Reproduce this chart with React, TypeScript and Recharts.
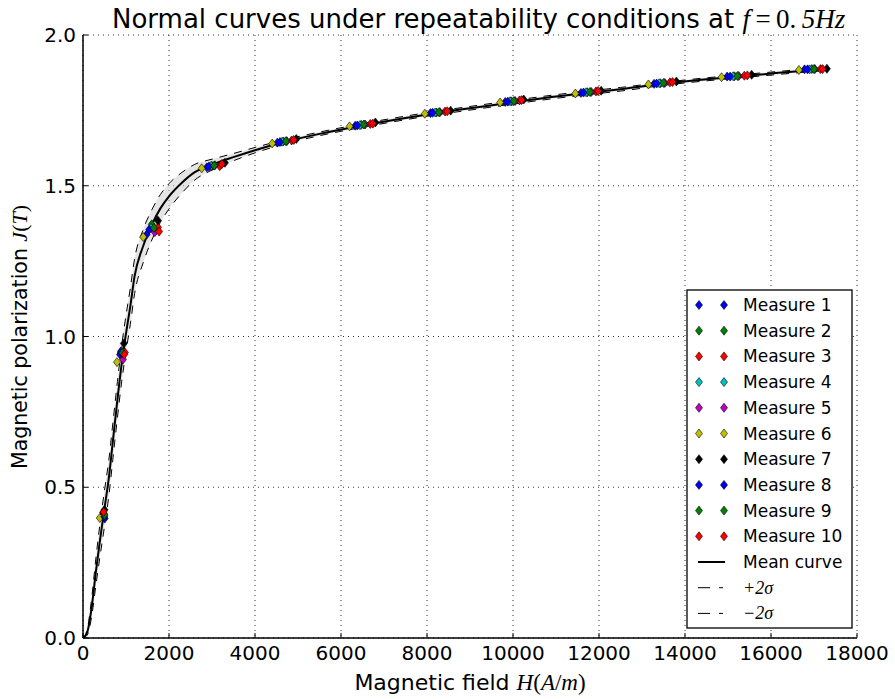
import React from "react";
import { ComposedChart, Line, Area, Scatter, XAxis, YAxis, CartesianGrid } from "recharts";

// magnetic field grid of the curves (A/m)
const hGrid = [0, 100, 200, 300, 400, 500, 600, 700, 800, 900, 1000, 1100, 1200, 1400, 1600, 1800, 2000, 2300, 2600, 3000, 3500, 4000, 4700, 5500, 6500, 7500, 8300, 9000, 10000, 11000, 11800, 12500, 13500, 14500, 15200, 16000, 17000, 17300];
const meanJ = [0, 0.02, 0.1, 0.22, 0.33, 0.43, 0.53, 0.66, 0.79, 0.91, 1.01, 1.1, 1.2, 1.3, 1.37, 1.425, 1.465, 1.51, 1.545, 1.57, 1.595, 1.618, 1.646, 1.672, 1.7, 1.725, 1.743, 1.757, 1.777, 1.796, 1.809, 1.82, 1.838, 1.853, 1.862, 1.872, 1.884, 1.887];
const upperJ = [0, 0.03, 0.13, 0.265, 0.385, 0.49, 0.59, 0.72, 0.85, 0.97, 1.07, 1.16, 1.258, 1.355, 1.42, 1.471, 1.507, 1.544, 1.571, 1.588, 1.607, 1.627, 1.653, 1.678, 1.706, 1.731, 1.749, 1.763, 1.783, 1.802, 1.815, 1.826, 1.843, 1.858, 1.867, 1.877, 1.889, 1.892];
const lowerJ = [0, 0.01, 0.07, 0.175, 0.275, 0.37, 0.47, 0.6, 0.73, 0.85, 0.95, 1.04, 1.142, 1.245, 1.32, 1.379, 1.423, 1.476, 1.519, 1.552, 1.583, 1.609, 1.639, 1.666, 1.694, 1.719, 1.737, 1.751, 1.771, 1.79, 1.803, 1.814, 1.833, 1.848, 1.857, 1.867, 1.879, 1.882];

// measured points, one pair of arrays per measure
const m1H = [505, 860, 1480, 2880, 4520, 6330, 8080, 9820, 11580, 13280, 14980, 16780];
const m1J = [0.396, 0.94, 1.338, 1.561, 1.643, 1.699, 1.741, 1.778, 1.808, 1.838, 1.862, 1.886];
const m2H = [475, 890, 1600, 3000, 4660, 6470, 8220, 9960, 11730, 13430, 15150, 16950];
const m2J = [0.41, 0.952, 1.372, 1.566, 1.647, 1.702, 1.743, 1.78, 1.81, 1.84, 1.863, 1.887];
const m3H = [465, 975, 1745, 3180, 4850, 6680, 8420, 10150, 11930, 13650, 15380, 17150];
const m3J = [0.416, 0.947, 1.362, 1.565, 1.65, 1.705, 1.746, 1.783, 1.813, 1.843, 1.865, 1.887];
const m4H = [480, 900, 1580, 2980, 4630, 6440, 8190, 9930, 11700, 13400, 15120, 16900];
const m4J = [0.405, 0.95, 1.36, 1.566, 1.646, 1.701, 1.743, 1.78, 1.81, 1.84, 1.863, 1.886];
const m5H = [485, 930, 1670, 3070, 4740, 6560, 8300, 10050, 11820, 13530, 15250, 17020];
const m5J = [0.412, 0.924, 1.346, 1.568, 1.648, 1.703, 1.744, 1.781, 1.811, 1.841, 1.864, 1.887];
const m6H = [390, 790, 1400, 2760, 4400, 6200, 7950, 9700, 11450, 13150, 14850, 16650];
const m6J = [0.398, 0.915, 1.33, 1.558, 1.64, 1.697, 1.739, 1.776, 1.806, 1.836, 1.86, 1.884];
const m7H = [500, 950, 1740, 3300, 4960, 6800, 8550, 10250, 12050, 13800, 15550, 17300];
const m7J = [0.425, 0.977, 1.385, 1.576, 1.655, 1.71, 1.749, 1.786, 1.815, 1.846, 1.868, 1.888];
const m8H = [495, 880, 1540, 2930, 4580, 6380, 8130, 9880, 11640, 13340, 15050, 16850];
const m8J = [0.402, 0.948, 1.355, 1.564, 1.645, 1.7, 1.742, 1.779, 1.809, 1.839, 1.862, 1.886];
const m9H = [500, 915, 1650, 3050, 4720, 6530, 8280, 10020, 11790, 13500, 15220, 17000];
const m9J = [0.408, 0.945, 1.36, 1.567, 1.648, 1.703, 1.744, 1.781, 1.811, 1.841, 1.864, 1.887];
const m10H = [480, 960, 1770, 3230, 4900, 6740, 8470, 10200, 11980, 13710, 15450, 17200];
const m10J = [0.418, 0.94, 1.348, 1.572, 1.652, 1.706, 1.747, 1.784, 1.814, 1.844, 1.866, 1.887];

const measureNames = ["Measure 1", "Measure 2", "Measure 3", "Measure 4", "Measure 5", "Measure 6", "Measure 7", "Measure 8", "Measure 9", "Measure 10"];
const measureColors = ["#0000ff", "#008000", "#ff0000", "#00bfbf", "#bf00bf", "#bfbf00", "#000000", "#0000ff", "#008000", "#ff0000"];
const measureH = [m1H, m2H, m3H, m4H, m5H, m6H, m7H, m8H, m9H, m10H];
const measureJ = [m1J, m2J, m3J, m4J, m5J, m6J, m7J, m8J, m9J, m10J];

const xTicks = [0, 2000, 4000, 6000, 8000, 10000, 12000, 14000, 16000, 18000];
const yTicks = [0, 0.5, 1.0, 1.5, 2.0];

const FONT = "'DejaVu Sans', sans-serif";
const MATH = "'Liberation Serif', 'DejaVu Serif', serif";

const curveData = hGrid.map((h, i) => ({ h, mean: meanJ[i], upper: upperJ[i], lower: lowerJ[i], band: [lowerJ[i], upperJ[i]] }));
const measures = measureNames.map((name, k) => ({
  name,
  color: measureColors[k],
  data: measureH[k].map((h, i) => ({ h, j: measureJ[k][i] })),
}));

const diamond = (cx: number, cy: number, fill: string) => (
  <polygon
    points={`${cx},${cy - 4.5} ${cx + 3.5},${cy} ${cx},${cy + 4.5} ${cx - 3.5},${cy}`}
    fill={fill}
    stroke="#000"
    strokeWidth={0.6}
  />
);

// ticks point inward like the matplotlib classic style
const BottomTick = (props: any) => {
  const { x, y, payload } = props;
  const ay = y - 4;
  return (
    <g>
      <line x1={x} x2={x} y1={ay} y2={ay - 5} stroke="#000" />
      <text x={x} y={ay + 22} textAnchor="middle" fontSize={20} fontFamily={FONT} fill="#000">
        {payload.value}
      </text>
    </g>
  );
};
const LeftTick = (props: any) => {
  const { x, y, payload } = props;
  const ax = x + 7;
  return (
    <g>
      <line x1={ax} x2={ax + 5} y1={y} y2={y} stroke="#000" />
      <text x={x} y={y + 7} textAnchor="end" fontSize={20} fontFamily={FONT} fill="#000">
        {Number(payload.value).toFixed(1)}
      </text>
    </g>
  );
};
const TopTick = (props: any) => {
  const { x, y } = props;
  return <line x1={x} x2={x} y1={y} y2={y + 5} stroke="#000" />;
};
const RightTick = (props: any) => {
  const { x, y } = props;
  return <line x1={x} x2={x - 5} y1={y} y2={y} stroke="#000" />;
};

export default function App() {
  const legendTop = 290;
  const rowH = 25.7;
  return (
    <div style={{ position: "absolute", left: 0, top: 0, width: 895, height: 699, background: "#fff" }}>
      <ComposedChart width={895} height={699} data={curveData} margin={{ top: 35, right: 38, bottom: 21, left: 8 }}>
        <CartesianGrid stroke="#000" strokeWidth={0.8} strokeDasharray="1 4" horizontalValues={yTicks} verticalValues={xTicks} />
        <XAxis
          dataKey="h"
          type="number"
          domain={[0, 18000]}
          ticks={xTicks}
          allowDataOverflow
          height={40}
          tickSize={0}
          tickMargin={4}
          tick={<BottomTick />}
          axisLine={{ stroke: "#000", strokeWidth: 1.5 }}
          interval={0}
        />
        <XAxis
          xAxisId="top"
          orientation="top"
          dataKey="h"
          type="number"
          domain={[0, 18000]}
          ticks={xTicks}
          allowDataOverflow
          height={0}
          tickSize={0}
          tickMargin={0}
          tick={<TopTick />}
          axisLine={{ stroke: "#000", strokeWidth: 1.5 }}
          interval={0}
        />
        <YAxis
          type="number"
          domain={[0, 2]}
          ticks={yTicks}
          allowDataOverflow
          width={75}
          tickSize={0}
          tickMargin={7}
          tick={<LeftTick />}
          axisLine={{ stroke: "#000", strokeWidth: 1.5 }}
          interval={0}
        />
        <YAxis
          yAxisId="right"
          orientation="right"
          type="number"
          domain={[0, 2]}
          ticks={yTicks}
          allowDataOverflow
          width={0}
          tickSize={0}
          tickMargin={0}
          tick={<RightTick />}
          axisLine={{ stroke: "#000", strokeWidth: 1.5 }}
          interval={0}
        />
        <Area type="monotone" dataKey="band" stroke="none" fill="#cfcfcf" fillOpacity={0.55} isAnimationActive={false} />
        <Line type="monotone" dataKey="upper" stroke="#000" strokeWidth={1} strokeDasharray="8 7" dot={false} isAnimationActive={false} />
        <Line type="monotone" dataKey="lower" stroke="#000" strokeWidth={1} strokeDasharray="8 7" dot={false} isAnimationActive={false} />
        <Line type="monotone" dataKey="mean" stroke="#000" strokeWidth={2} dot={false} isAnimationActive={false} />
        {measures.map((m) => (
          <Scatter
            key={m.name}
            name={m.name}
            data={m.data}
            dataKey="j"
            fill={m.color}
            isAnimationActive={false}
            shape={(p: any) => diamond(p.cx, p.cy, m.color)}
          />
        ))}
      </ComposedChart>
      <svg width={895} height={699} style={{ position: "absolute", left: 0, top: 0, pointerEvents: "none" }}>
        <text x={112} y={28} fontSize={26} fontFamily={FONT} fill="#000">
          Normal curves under repeatability conditions at{" "}
          <tspan fontFamily={MATH} fontSize={27} fontStyle="italic">f</tspan>
          <tspan fontFamily={MATH} fontSize={27}>{"\u2009=\u20090."}</tspan>
          <tspan fontFamily={MATH} fontSize={27} fontStyle="italic">{"\u20095Hz"}</tspan>
        </text>
        <text x={470} y={690} textAnchor="middle" fontSize={22} fontFamily={FONT} fill="#000">
          Magnetic field <tspan fontFamily={MATH} fontSize={23} fontStyle="italic">H</tspan>
          <tspan fontFamily={MATH} fontSize={23}>(</tspan>
          <tspan fontFamily={MATH} fontSize={23} fontStyle="italic">A</tspan>
          <tspan fontFamily={MATH} fontSize={23}>/</tspan>
          <tspan fontFamily={MATH} fontSize={23} fontStyle="italic">m</tspan>
          <tspan fontFamily={MATH} fontSize={23}>)</tspan>
        </text>
        <text x={27} y={337} textAnchor="middle" fontSize={20.5} fontFamily={FONT} fill="#000" transform="rotate(-90 27 337)">
          Magnetic polarization <tspan fontFamily={MATH} fontSize={22} fontStyle="italic">J</tspan>
          <tspan fontFamily={MATH} fontSize={22}>(</tspan>
          <tspan fontFamily={MATH} fontSize={22} fontStyle="italic">T</tspan>
          <tspan fontFamily={MATH} fontSize={22}>)</tspan>
        </text>
        <rect x={687} y={legendTop} width={165} height={338} fill="#fff" stroke="#000" strokeWidth={1.3} />
        {measures.map((m, i) => {
          const cy = legendTop + 15 + i * rowH;
          return (
            <g key={m.name}>
              {diamond(699, cy, m.color)}
              {diamond(724, cy, m.color)}
              <text x={743} y={cy + 6} fontSize={17} fontFamily={FONT} fill="#000">
                {m.name}
              </text>
            </g>
          );
        })}
        <line x1={698} x2={725} y1={legendTop + 15 + 10 * rowH} y2={legendTop + 15 + 10 * rowH} stroke="#000" strokeWidth={2} />
        <text x={743} y={legendTop + 21 + 10 * rowH} fontSize={17} fontFamily={FONT} fill="#000">
          Mean curve
        </text>
        {["+2σ", "−2σ"].map((lab, i) => {
          const cy = legendTop + 15 + (11 + i) * rowH;
          return (
            <g key={lab}>
              <line x1={698} x2={710} y1={cy} y2={cy} stroke="#000" strokeWidth={1} />
              <line x1={719} x2={723} y1={cy} y2={cy} stroke="#000" strokeWidth={1} />
              <text x={743} y={cy + 6} fontSize={18} fontFamily={MATH} fontStyle="italic" fill="#000">
                {lab}
              </text>
            </g>
          );
        })}
      </svg>
    </div>
  );
}
